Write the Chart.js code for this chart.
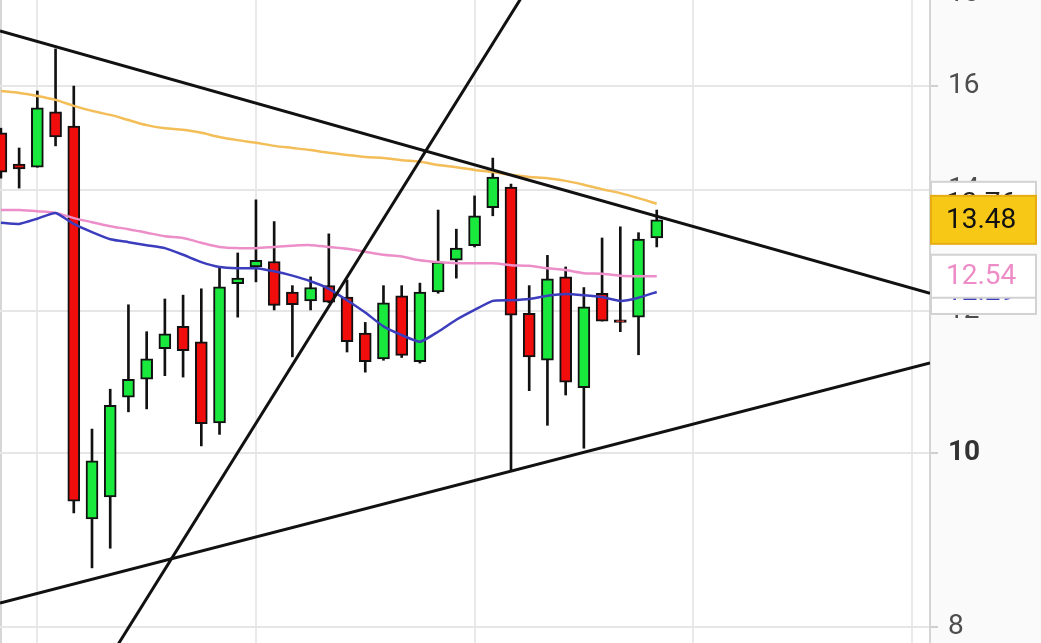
<!DOCTYPE html>
<html>
<head>
<meta charset="utf-8">
<script src="https://cdn.jsdelivr.net/npm/chart.js@4/dist/chart.umd.min.js"></script>
<style>
  html, body { margin: 0; padding: 0; background: #fff; overflow: hidden; }
  #wrap { position: relative; width: 1041px; height: 643px; overflow: hidden; }
  #chart { position: absolute; left: 0; top: -20px; }
</style>
</head>
<body>
<div id="wrap"><canvas id="chart" width="1041" height="663"></canvas></div>
<script>
// candles, one per session (x = session index)
var opens  = [15.07, 14.48, 14.42, 15.48, 15.20, 9.19, 9.45, 10.74, 10.99, 11.43, 11.76, 11.53, 10.39, 12.42, 12.69, 12.78, 12.29, 12.15, 12.39, 12.21, 11.66, 11.28, 12.23, 11.24, 12.29, 12.80, 13.04, 13.69, 14.06, 11.96, 11.26, 12.53, 10.87, 12.27, 11.86, 11.90, 13.17];
var highs  = [15.16, 14.78, 15.90, 16.78, 16.00, 10.31, 10.85, 12.09, 11.68, 12.18, 12.24, 12.34, 12.67, 12.92, 13.83, 13.45, 12.39, 12.53, 13.24, 12.48, 11.82, 12.39, 12.39, 12.43, 13.65, 13.32, 13.90, 14.59, 14.11, 12.39, 12.88, 12.69, 12.36, 13.17, 13.36, 13.26, 13.65];
var lows   = [14.22, 14.04, 14.42, 14.82, 9.26, 8.63, 8.85, 10.54, 10.58, 11.04, 11.02, 10.09, 10.24, 11.90, 12.45, 12.01, 11.31, 12.01, 12.12, 11.38, 11.09, 11.26, 11.30, 11.22, 12.27, 12.51, 13.02, 13.55, 9.78, 10.83, 10.36, 10.77, 10.06, 11.84, 11.68, 11.34, 13.02];
var closes = [14.33, 14.39, 15.56, 14.99, 9.40, 9.90, 10.63, 10.99, 11.28, 11.65, 11.40, 10.38, 12.37, 12.51, 12.80, 12.08, 12.09, 12.36, 12.13, 11.53, 11.24, 12.12, 11.33, 12.29, 12.77, 13.00, 13.55, 14.24, 11.93, 11.31, 12.50, 10.95, 12.06, 11.84, 11.82, 13.15, 13.48];

// moving averages
var maSlow = [15.90, 15.86, 15.80, 15.72, 15.60, 15.50, 15.42, 15.32, 15.22, 15.16, 15.13, 15.07, 14.99, 14.93, 14.88, 14.82, 14.78, 14.74, 14.69, 14.65, 14.61, 14.59, 14.55, 14.52, 14.46, 14.42, 14.37, 14.33, 14.28, 14.24, 14.22, 14.17, 14.10, 14.02, 13.95, 13.86, 13.76];
var maMid  = [13.65, 13.65, 13.63, 13.60, 13.51, 13.44, 13.37, 13.32, 13.26, 13.20, 13.17, 13.09, 13.02, 13.00, 13.00, 13.02, 13.04, 13.05, 13.02, 12.99, 12.94, 12.89, 12.86, 12.80, 12.77, 12.75, 12.75, 12.75, 12.72, 12.71, 12.67, 12.64, 12.59, 12.58, 12.55, 12.54, 12.54];
var maFast = [13.43, 13.41, 13.50, 13.60, 13.41, 13.27, 13.15, 13.10, 13.05, 13.00, 12.89, 12.77, 12.69, 12.67, 12.67, 12.62, 12.55, 12.46, 12.34, 12.16, 11.97, 11.76, 11.63, 11.53, 11.68, 11.86, 12.01, 12.15, 12.16, 12.18, 12.23, 12.26, 12.24, 12.21, 12.15, 12.20, 12.29];

// hand-drawn trend lines: [x0, y0, x1, y1]
var resistLine = [-0.05, 17.17, 51, 12.27];
var supportLine = [-0.05, 8.25, 51, 11.22];
var steepLine = [5.90, 7.67, 29.52, 18.57];

var yTicks = [8, 10, 12, 14, 16, 18];
var xGrid = [2, 14, 26, 38, 50];

var GREEN = '#19e83d', RED = '#f20d0d', INK = '#111111';

var bodies = [], wicks = [], bodyColors = [];
for (var i = 0; i < opens.length; i++) {
    bodies.push({ x: i, y: [opens[i], closes[i]] });
    wicks.push({ x: i, y: [lows[i], highs[i]] });
    bodyColors.push(closes[i] >= opens[i] ? GREEN : RED);
}
function series(arr) {
    return arr.map(function (v, i) { return { x: i, y: v }; });
}
function seg(a) {
    return [{ x: a[0], y: a[1] }, { x: a[2], y: a[3] }];
}

// axis panel background + left frame
var backdrop = {
    id: 'backdrop',
    beforeDraw: function (chart) {
        var c = chart.ctx, a = chart.chartArea;
        c.save();
        c.fillStyle = '#fafafa';
        c.fillRect(a.right, 0, chart.width - a.right, chart.height);
        c.fillStyle = '#d6d6d6';
        c.fillRect(0, 0, 2, chart.height);
        c.restore();
    }
};

// last-value boxes on the price axis
var valueTags = {
    id: 'valueTags',
    afterDraw: function (chart) {
        var c = chart.ctx, y = chart.scales.y, a = chart.chartArea;
        var tags = [
            { v: maSlow[maSlow.length - 1], text: '#222222', fill: '#ffffff', line: '#d2d2d2', h: 44 },
            { v: maFast[maFast.length - 1], text: '#3b3dbd', fill: '#ffffff', line: '#d2d2d2', h: 44 },
            { v: maMid[maMid.length - 1], text: '#ee8cc8', fill: '#ffffff', line: '#d2d2d2', h: 43 },
            { v: closes[closes.length - 1], text: '#111111', fill: '#f7c816', line: '#e6ac10', h: 48 }
        ];
        c.save();
        c.font = '28px Roboto';
        c.textBaseline = 'middle';
        c.textAlign = 'left';
        tags.forEach(function (t) {
            var py = y.getPixelForValue(t.v);
            var x0 = a.right + 1, w = 1036 - x0;
            c.fillStyle = t.fill;
            c.fillRect(x0, py - t.h / 2, w, t.h);
            c.lineWidth = 2;
            c.strokeStyle = t.line;
            c.strokeRect(x0, py - t.h / 2, w, t.h);
            c.fillStyle = t.text;
            c.fillText(t.v.toFixed(2), 946, py + 1);
        });
        c.restore();
    }
};

new Chart(document.getElementById('chart'), {
    type: 'bar',
    data: {
        datasets: [
            {
                label: 'wick',
                data: wicks,
                backgroundColor: INK,
                barThickness: 2,
                grouped: false,
                order: 6
            },
            {
                label: 'body',
                data: bodies,
                backgroundColor: bodyColors,
                borderColor: INK,
                borderWidth: 2,
                borderSkipped: false,
                barThickness: 12,
                grouped: false,
                order: 5
            },
            {
                type: 'line',
                label: 'MA slow',
                data: series(maSlow),
                borderColor: '#f3bd58',
                borderWidth: 2.5,
                pointRadius: 0,
                tension: 0.3,
                order: 4
            },
            {
                type: 'line',
                label: 'MA mid',
                data: series(maMid),
                borderColor: '#ec8fc9',
                borderWidth: 2.5,
                pointRadius: 0,
                tension: 0.3,
                order: 3
            },
            {
                type: 'line',
                label: 'MA fast',
                data: series(maFast),
                borderColor: '#3b3dbd',
                borderWidth: 2.5,
                pointRadius: 0,
                tension: 0.15,
                order: 2
            },
            { type: 'line', data: seg(resistLine), borderColor: INK, borderWidth: 3, pointRadius: 0, order: 1 },
            { type: 'line', data: seg(supportLine), borderColor: INK, borderWidth: 3, pointRadius: 0, order: 1 },
            { type: 'line', data: seg(steepLine), borderColor: INK, borderWidth: 3, pointRadius: 0, order: 1 }
        ]
    },
    options: {
        responsive: false,
        animation: false,
        devicePixelRatio: 1,
        layout: { padding: 0 },
        plugins: {
            legend: { display: false },
            tooltip: { enabled: false }
        },
        scales: {
            x: {
                type: 'linear',
                min: -0.05,
                max: 51,
                offset: false,
                afterBuildTicks: function (s) {
                    s.ticks = xGrid.map(function (v) { return { value: v }; });
                },
                afterFit: function (s) {
                    s.height = 0;
                    s.paddingLeft = 0;
                    s.paddingRight = 0;
                },
                ticks: { display: false },
                border: { display: false },
                grid: { color: '#e9e9e9', lineWidth: 2, drawTicks: false, offset: false }
            },
            y: {
                type: 'logarithmic',
                position: 'right',
                min: 7.838,
                max: 18.33,
                afterBuildTicks: function (s) {
                    s.ticks = yTicks.map(function (v) { return { value: v }; });
                },
                afterFit: function (s) {
                    s.width = 111;
                    s.paddingTop = 0;
                    s.paddingBottom = 0;
                },
                border: { color: '#d4d4d4', width: 2 },
                grid: { color: '#e6e6e6', lineWidth: 2, tickLength: 8, tickColor: '#d0d0d0' },
                ticks: {
                    padding: 10,
                    autoSkip: false,
                    color: function (ctx) { return ctx.tick && ctx.tick.value === 10 ? '#333333' : '#4d4d4d'; },
                    font: function (ctx) {
                        return ctx.tick && ctx.tick.value === 10
                            ? { family: 'Roboto', size: 28, weight: 'bold' }
                            : { family: 'Roboto', size: 28 };
                    },
                    callback: function (v) { return String(v); }
                }
            }
        }
    },
    plugins: [backdrop, valueTags]
});
</script>
</body>
</html>
